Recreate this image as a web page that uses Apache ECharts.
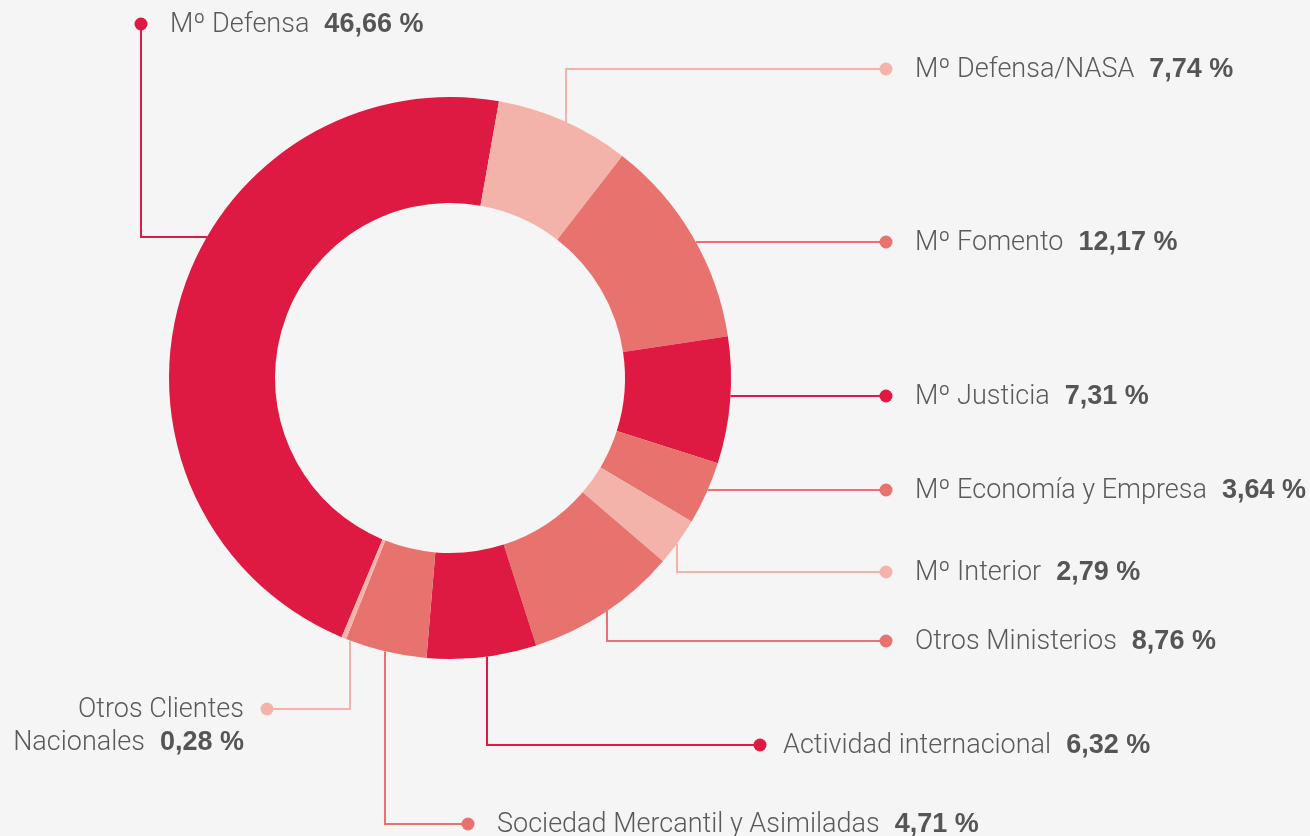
<!DOCTYPE html>
<html>
<head>
<meta charset="utf-8">
<script src="https://cdn.jsdelivr.net/npm/echarts@6/dist/echarts.min.js"></script>
<style>
  html, body { margin: 0; padding: 0; background: #f5f5f5; }
  #chart { width: 1310px; height: 836px; }
</style>
</head>
<body>
<div id="chart"></div>
<script>
// slices, clockwise starting from Mº Defensa
var categories = [
  'Mº Defensa',
  'Mº Defensa/NASA',
  'Mº Fomento',
  'Mº Justicia',
  'Mº Economía y Empresa',
  'Mº Interior',
  'Otros Ministerios',
  'Actividad internacional',
  'Sociedad Mercantil y Asimiladas',
  'Otros Clientes\nNacionales'
];
var shares = [46.66, 7.74, 12.17, 7.31, 3.64, 2.79, 8.76, 6.32, 4.71, 0.28];

(function() {
  var crimson = '#de1a42';
  var salmon = '#e8726e';
  var pink = '#f3b3aa';
  var palette = [crimson, pink, salmon, crimson, salmon, pink, salmon, crimson, salmon, pink];

  var cx = 450, cy = 378, rIn = 175, rOut = 281;

  // leader lines: first point sits on the outer ring at the given x or y
  var leaders = [
    { via: 'y', at: 237, path: [[141, 237], [141, 24]], gap: 29 },
    { via: 'x', at: 566, path: [[566, 69], [886, 69]], gap: 29 },
    { via: 'y', at: 242, path: [[886, 242]], gap: 29 },
    { via: 'y', at: 396, path: [[886, 396]], gap: 29 },
    { via: 'y', at: 490, path: [[886, 490]], gap: 29 },
    { via: 'x', at: 677, path: [[677, 572], [886, 572]], gap: 29 },
    { via: 'x', at: 607, path: [[607, 641], [886, 641]], gap: 29 },
    { via: 'x', at: 487, path: [[487, 745], [760, 745]], gap: 23 },
    { via: 'x', at: 385, path: [[385, 824], [468, 824]], gap: 29 },
    { via: 'x', at: 350, path: [[350, 709], [267, 709]], gap: -23 }
  ];

  function fmt(v) {
    return v.toFixed(2).replace('.', ',') + ' %';
  }

  function ringPoint(l) {
    var next = l.path[0];
    if (l.via === 'y') {
      var dx = Math.sqrt(rOut * rOut - (l.at - cy) * (l.at - cy));
      return [next[0] < cx ? cx - dx : cx + dx, l.at];
    }
    var dy = Math.sqrt(rOut * rOut - (l.at - cx) * (l.at - cx));
    return [l.at, next[1] < cy ? cy - dy : cy + dy];
  }

  // graphic text goes straight to zrender, so colours are set with fill
  var rich = {
    n: { fontFamily: 'Roboto', fontWeight: 300, fontSize: 27, fill: '#5a5a5a', lineHeight: 33 },
    v: { fontFamily: 'Liberation Sans', fontWeight: 'bold', fontSize: 27, fill: '#555555', lineHeight: 33, padding: [0, 0, 0, 15] }
  };

  var graphics = [];
  leaders.forEach(function(l, i) {
    var pts = [ringPoint(l)].concat(l.path);
    var end = l.path[l.path.length - 1];
    var color = palette[i];
    graphics.push({
      type: 'polyline',
      silent: true,
      shape: { points: pts },
      style: { stroke: color, lineWidth: 2, fill: null }
    });
    graphics.push({
      type: 'circle',
      silent: true,
      shape: { cx: end[0], cy: end[1], r: 6.5 },
      style: { fill: color }
    });
    var lines = categories[i].split('\n');
    var text = lines.map(function(s, k) {
      return '{n|' + s + '}' + (k === lines.length - 1 ? '{v|' + fmt(shares[i]) + '}' : '');
    }).join('\n');
    graphics.push({
      type: 'text',
      silent: true,
      x: end[0] + l.gap,
      y: end[1] + 1 + (lines.length - 1) * 16.5,
      style: {
        text: text,
        align: l.gap < 0 ? 'right' : 'left',
        verticalAlign: 'middle',
        fill: '#5a5a5a',
        rich: rich
      }
    });
  });

  var chart = echarts.init(document.getElementById('chart'), null, { renderer: 'canvas' });
  chart.setOption({
    animation: false,
    backgroundColor: '#f5f5f5',
    series: [{
      type: 'pie',
      silent: true,
      center: [cx, cy],
      radius: [rIn, rOut],
      startAngle: 247.3,
      clockwise: true,
      color: palette,
      itemStyle: { borderWidth: 0 },
      label: { show: false },
      labelLine: { show: false },
      data: categories.map(function(name, i) {
        return { name: name.replace('\n', ' '), value: shares[i] };
      })
    }],
    graphic: graphics
  });

  window.addEventListener('resize', function() { chart.resize(); });
})();
</script>
</body>
</html>
